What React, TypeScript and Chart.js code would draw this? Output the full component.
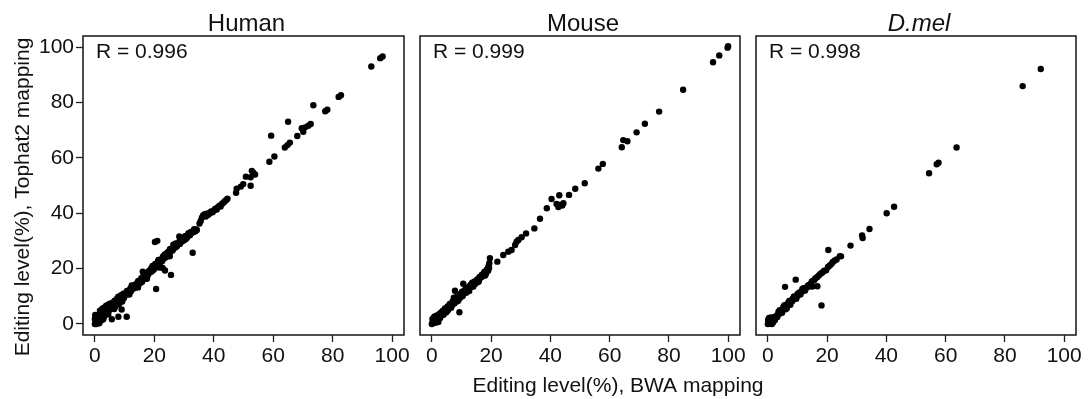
import React, { useEffect, useRef } from "react";
import { Chart, registerables } from "chart.js";

Chart.register(...registerables);

const W = 1089;
const H = 399;

const tickValues = [0, 20, 40, 60, 80, 100];
const panelTitles = ["Human", "Mouse", "D.mel"];
const rLabels = ["R = 0.996", "R = 0.999", "R = 0.998"];
const xAxisTitle = "Editing level(%), BWA mapping";
const yAxisTitle = "Editing level(%), Tophat2 mapping";

// [BWA mapping, Tophat2 mapping]
const humanPoints: [number, number][] = [
  [0, 0], [0.2, 0.5], [0.4, 1.2], [0, 1.8], [0.3, 2.6], [0.1, 3.2], [0.6, 0.3], [1, 0.8], [1.2, 1.6], [0.8, 2.2],
  [1.5, 0.9], [1.8, 1.9], [2, 2.6], [2.3, 1.4], [0.5, 0], [1.4, 0.2], [2.6, 3.2], [3, 2.4], [3.2, 3.8], [2.8, 4.6],
  [3.6, 5.2], [3.4, 3.1], [4, 4.2], [4.3, 5.6], [4.1, 6.4], [4.8, 4.9], [5.2, 6.1], [5.5, 6.8], [5, 5.3], [5.9, 5.6],
  [6.3, 6.5], [6.1, 7.1], [6.8, 6.2], [7.2, 7.4], [7, 8.1], [7.6, 7], [8, 8.3], [8.3, 9.4], [8.6, 8], [9, 9.1],
  [9.4, 10.2], [9.7, 9.3], [10.2, 10.4], [10.5, 11.2], [11, 10.7], [11.3, 11.8], [11.8, 12.4], [12.2, 11.9], [12.6, 13.3], [13, 12.8],
  [13.4, 14.2], [13.9, 13.8], [14.3, 14.9], [14.8, 14.4], [15.2, 15.7], [15.6, 16.5], [16.4, 16.1], [16.9, 17.4], [17.3, 18], [17.8, 17.6],
  [18.2, 19.1], [18.7, 19.6], [19.1, 18.9], [19.6, 20.4], [20, 21], [20.5, 20.6], [21, 21.8], [21.4, 23.1], [21.9, 22.4], [22.3, 23.3],
  [22.8, 24], [23.2, 23.6], [23.7, 24.8], [24.1, 25.3], [24.6, 25.9], [25, 26.4], [25.5, 26.1], [26, 27.3], [26.4, 28.6], [26.9, 28.2],
  [27.4, 28.9], [27.8, 28.4], [28.3, 29.6], [28.8, 30.1], [29.3, 29.8], [29.8, 30.9], [30.2, 31.3], [30.7, 31.8], [31.3, 32.1], [31.8, 32.6],
  [32.3, 33.2], [33.1, 33.4], [34.1, 34.1], [2.5, 5.5], [3.8, 6.6], [5.8, 7.6], [7.5, 9.2], [8.8, 10.4], [1.5, 0.3], [2.8, 1.7],
  [4.5, 3.5], [6.5, 5.4], [9.2, 8.1], [11.6, 10.6], [14.5, 13.2], [17.5, 16.3], [21.5, 20.4], [25.2, 24.4], [12.4, 13.9], [15.9, 15.2],
  [19.4, 20.9], [23.5, 25.1], [27.1, 27.6], [30.5, 30.6], [35.2, 36.3], [35.6, 37.2], [36, 38.4], [36.4, 39.2], [36.9, 39.6], [37.3, 38.8],
  [37.8, 39.9], [38.2, 39.4], [38.7, 40.1], [39.1, 40.6], [39.6, 40.3], [40, 41], [40.5, 41.6], [41, 41.3], [41.4, 42.2], [41.9, 42.7],
  [42.3, 42.4], [42.8, 43.4], [43.3, 43.9], [43.7, 44.3], [44.2, 44.8], [44.6, 45.2], [5.7, 1.7], [7.9, 2.6], [10.7, 2.6], [9, 5.2],
  [20.2, 29.6], [21, 30], [20.6, 12.6], [32.9, 25.7], [25.6, 17.7], [23.6, 19.3], [22.8, 20.2], [28.4, 31.6], [33.1, 33.1], [34.3, 33.9],
  [16.1, 18.9], [47.5, 47.4], [47.7, 48.8], [49.1, 49.6], [49.9, 50.5], [52.4, 49.9], [50.8, 53.2], [52.4, 53], [52.8, 55.3], [53.3, 54.6],
  [53.9, 54], [58.7, 58.6], [59.3, 68], [60.4, 60.5], [63.9, 63.7], [64.8, 64.6], [65.6, 65.5], [65, 73], [68.1, 67.9], [69.6, 70.7],
  [70.1, 69.4], [70.7, 71], [71.8, 71.6], [72.6, 72.2], [73.5, 79], [77.5, 76.8], [78.2, 77.4], [82, 82], [82.8, 82.6], [93, 93],
  [96, 96], [96.8, 96.6],
  [1.1, 2.9], [1.9, 3.6], [2.2, 4.3], [3.1, 5.9], [1.7, 4.8], [4.6, 7], [5.1, 7.3], [6.6, 8.4], [6.9, 7.6], [7.9, 9.8],
  [8.1, 7.2], [9.6, 10.9], [9.9, 9.8], [10.8, 11.9], [11.5, 11.1], [12, 12.9], [12.9, 13.6], [13.6, 13.1], [14.1, 14.3], [14.6, 15.5],
  [15.4, 14.9], [16.2, 17.1], [16.7, 16.6], [17.1, 16.9], [17.6, 18.6], [18, 18.2], [18.5, 18.6], [19, 20.1], [19.8, 19.6], [20.3, 21.7],
  [20.8, 21.1], [21.2, 22.5], [21.7, 21.6], [22.1, 22.9], [22.6, 22.6], [23, 24.5], [23.4, 24.2], [23.9, 24.1], [24.4, 25.7], [24.9, 25.4],
  [25.3, 27.1], [25.8, 26.9], [26.2, 26.6], [26.7, 27.7], [27.2, 29.1], [27.6, 28.1], [28, 29.2], [28.6, 28.9], [29, 30.6], [29.5, 30.3],
  [30, 30.2], [30.4, 31.7], [31, 31.1], [31.5, 32.8], [32, 32], [32.6, 33], [33.4, 34.2], [33.8, 33.5], [0.2, 0.1], [0.9, 1.4],
];

const mousePoints: [number, number][] = [
  [0, 0], [0.3, 0.6], [0.6, 1.3], [0.2, 1.8], [1, 0.4], [1.3, 1.1], [1.6, 2], [1.9, 1.5], [2.2, 0.7], [2.4, 2.4],
  [0.8, 2.6], [2.8, 2.1], [3.1, 3], [3.5, 3.6], [3.9, 3.3], [4.3, 4.4], [4.7, 4.1], [5.1, 5.2], [5.5, 5], [5.9, 6],
  [6.3, 6.4], [6.7, 6.5], [7.1, 7.3], [7.6, 7.4], [8, 8.2], [7.8, 12], [8.4, 8.1], [8.8, 9], [9.3, 4.2], [9.2, 9.4],
  [9.6, 9.5], [10, 10.3], [10.4, 10.1], [10.6, 14.5], [10.8, 11], [11.2, 11.4], [11.6, 11.3], [12, 12.3], [12.4, 12.2], [12.9, 13.2],
  [13.3, 13.5], [13.8, 13.6], [14.2, 14.6], [14.6, 14.4], [15.1, 15.4], [15.5, 15.8], [15.9, 15.7], [16.3, 16.7], [16.7, 16.9], [17.1, 17.4],
  [17.5, 17.5], [17.9, 18.4], [18.3, 18.2], [18.6, 19.3], [19, 19.2], [19.4, 21.9], [19.6, 23.7], [19.3, 20.2], [3, 4], [5, 4.4],
  [6, 7], [11, 12], [14, 13.5], [22.1, 22.5], [24.1, 24.9], [25.8, 26.1], [26.9, 26.7], [28.1, 28.5], [28.6, 29.7], [29.2, 30.3],
  [30.3, 31.3], [31.8, 32.7], [34.6, 34.5], [36.5, 38], [38.8, 41.8], [40.4, 45.1], [42.1, 43.3], [42.7, 42.2], [43.2, 43], [44, 42.8],
  [44.4, 43.6], [43, 46.5], [46.3, 46.6], [48.4, 48.8], [51.6, 50.8], [56.2, 56.1], [57.7, 57.8], [64.1, 63.8], [64.6, 66.4], [66, 66],
  [69.1, 69.2], [71.9, 72.3], [76.7, 76.7], [84.8, 84.6], [94.9, 94.5], [97, 97], [99.8, 99.8], [100, 100.3],
  [1.2, 2.8], [2, 3.2], [2.7, 3.7], [3.6, 4.7], [4.4, 5.6], [5.3, 6.3], [6.1, 7.2], [7, 8.1], [7.4, 9.5], [8.5, 9.8],
  [9.4, 10.7], [10.2, 11.6], [11.4, 12.6], [12.2, 13.3], [13, 14.1], [13.6, 14.9], [14.4, 15.3], [15.3, 16.1], [16.1, 17], [16.9, 17.8],
  [17.7, 18.8], [18.5, 19.6], [19.1, 20.8], [4, 3.5], [6.5, 5.8], [8.9, 8.4], [12.6, 11.9], [15.7, 15.1], [18, 17.5], [1.5, 0.6],
];

const dmelPoints: [number, number][] = [
  [0, 0], [0.3, 0.8], [0.6, 0.2], [0.1, 1.5], [1, 1], [1.3, 0.5], [1.6, 1.4], [0.7, 1.9], [2, 1.8], [2.2, 2.5],
  [2.6, 2.2], [3, 3], [3.4, 3.5], [3.8, 3.6], [4.2, 4.3], [4.6, 4.5], [5, 5.2], [5.4, 5.3], [5.8, 6], [6.2, 6.4],
  [6.6, 6.5], [7, 7.3], [7.4, 7.4], [7.8, 8], [8.2, 8.2], [8.6, 8.8], [9, 9.1], [9.4, 9.7], [9.8, 9.9], [10.3, 10.5],
  [10.8, 10.9], [11.3, 11.4], [11.8, 12], [12.3, 12.4], [12.8, 13], [13.3, 13.3], [15, 13.5], [16.7, 13.6], [15.6, 15.8], [16, 16.4],
  [16.6, 16.9], [17.2, 17.5], [17.8, 18.1], [18.4, 18.6], [19, 19.2], [19.7, 19.4], [20.3, 20.6], [20.9, 21.1], [21.5, 21.7], [21.9, 22.4],
  [22.6, 22.9], [23.2, 23.3], [24.3, 24.5], [24.7, 24.4], [0.4, 2.2], [1.8, 0.6], [5.8, 13.4], [9.4, 16], [18.1, 6.7], [20.4, 26.7],
  [27.9, 28.3], [31.8, 32], [32, 31], [34.3, 34.3], [40.1, 40], [42.6, 42.3], [54.4, 54.4], [57, 57.7], [57.6, 58.2], [63.7, 63.7],
  [86, 85.9], [92.1, 92.1],
  [4, 5], [5.6, 6.8], [7.2, 8.3], [8.8, 9.9], [10.6, 11.4], [12, 12.9], [13.8, 14], [14.5, 14.6], [6.4, 5.7], [9.6, 9.1],
  [1.1, 2.3], [2.4, 1.4], [3.2, 2.5], [3.6, 4.4], [4.8, 4], [5.2, 6.1], [6, 5.3], [6.8, 7.6], [7.6, 6.9], [8.4, 9.1],
  [10, 10.8], [11, 10.6], [11.6, 12.5], [12.6, 12.1], [13.5, 13.8], [14.2, 13.6], [14.9, 15.4], [1.4, 0], [0.9, 0.3], [0.2, 0.6],
];

const panelData = [humanPoints, mousePoints, dmelPoints];

// layout (pixels)
const boxes = [
  { l: 83, r: 404 },
  { l: 420, r: 740 },
  { l: 756, r: 1076 },
];
const BOX_TOP = 36;
const BOX_BOTTOM = 335;
const Y_AXIS_W = 45;
const X_AXIS_H = 40;
const FONT = '"Liberation Sans", Arial, Helvetica, sans-serif';
const TEXT = "#111";
const LINE = "#222";

function Panel({ index }: { index: number }) {
  const ref = useRef<HTMLCanvasElement | null>(null);
  useEffect(() => {
    const canvas = ref.current;
    if (!canvas) return;
    const box = boxes[index];
    const showY = index === 0;
    const decor = {
      id: "decor" + index,
      afterDraw(chart: any) {
        const { ctx, chartArea: a } = chart;
        ctx.save();
        ctx.strokeStyle = LINE;
        ctx.lineWidth = 1.6;
        ctx.strokeRect(a.left, a.top, a.right - a.left, a.bottom - a.top);
        ctx.fillStyle = TEXT;
        ctx.textBaseline = "alphabetic";
        ctx.font = `${index === 2 ? "italic " : ""}24px ${FONT}`;
        ctx.textAlign = "center";
        ctx.fillText(panelTitles[index], (a.left + a.right) / 2 + 3, 31);
        ctx.font = `21px ${FONT}`;
        ctx.textAlign = "left";
        ctx.fillText(rLabels[index], a.left + 13, 57.5);
        if (index === 0) {
          ctx.textAlign = "center";
          ctx.fillText(xAxisTitle, 618, 392);
          ctx.save();
          ctx.translate(29, 197);
          ctx.rotate(-Math.PI / 2);
          ctx.fillText(yAxisTitle, 0, 0);
          ctx.restore();
        }
        ctx.restore();
      },
    };
    const tickFont = { family: FONT, size: 21 };
    const chart = new Chart(canvas, {
      type: "scatter",
      data: {
        datasets: [
          {
            data: panelData[index].map(([x, y]) => ({ x, y })),
            pointRadius: 3.2,
            pointHoverRadius: 3.2,
            pointBackgroundColor: "#000",
            pointBorderWidth: 0,
            backgroundColor: "#000",
          },
        ],
      },
      options: {
        responsive: false,
        animation: false,
        devicePixelRatio: 1,
        events: [],
        layout: {
          padding: {
            left: box.l - Y_AXIS_W,
            right: W - box.r,
            top: BOX_TOP,
            bottom: H - BOX_BOTTOM - X_AXIS_H,
          },
        },
        plugins: { legend: { display: false }, tooltip: { enabled: false }, title: { display: false } },
        scales: {
          x: {
            type: "linear",
            min: -4,
            max: 104,
            afterBuildTicks: (s: any) => {
              s.ticks = tickValues.map((v) => ({ value: v }));
            },
            afterFit: (s: any) => {
              s.height = X_AXIS_H;
            },
            grid: { display: true, drawOnChartArea: false, drawTicks: true, tickLength: 7, tickColor: LINE, tickWidth: 1.3 },
            border: { display: false },
            ticks: { font: tickFont, color: TEXT, padding: 2, autoSkip: false, maxRotation: 0 },
          },
          y: {
            type: "linear",
            display: true,
            min: -4,
            max: 104,
            afterBuildTicks: (s: any) => {
              s.ticks = tickValues.map((v) => ({ value: v }));
            },
            afterFit: (s: any) => {
              s.width = Y_AXIS_W;
            },
            grid: {
              display: showY,
              drawOnChartArea: false,
              drawTicks: true,
              tickLength: 7,
              tickColor: LINE,
              tickWidth: 1.3,
            },
            border: { display: false },
            ticks: { display: showY, font: tickFont, color: TEXT, padding: 2, autoSkip: false },
          },
        },
      },
      plugins: [decor],
    } as any);
    return () => chart.destroy();
  }, [index]);
  return (
    <canvas
      ref={ref}
      width={W}
      height={H}
      style={{ position: "absolute", left: 0, top: 0, width: W, height: H }}
    />
  );
}

export default function App() {
  return (
    <div style={{ position: "fixed", left: 0, top: 0, width: W, height: H, background: "#fff" }}>
      <Panel index={0} />
      <Panel index={1} />
      <Panel index={2} />
    </div>
  );
}
